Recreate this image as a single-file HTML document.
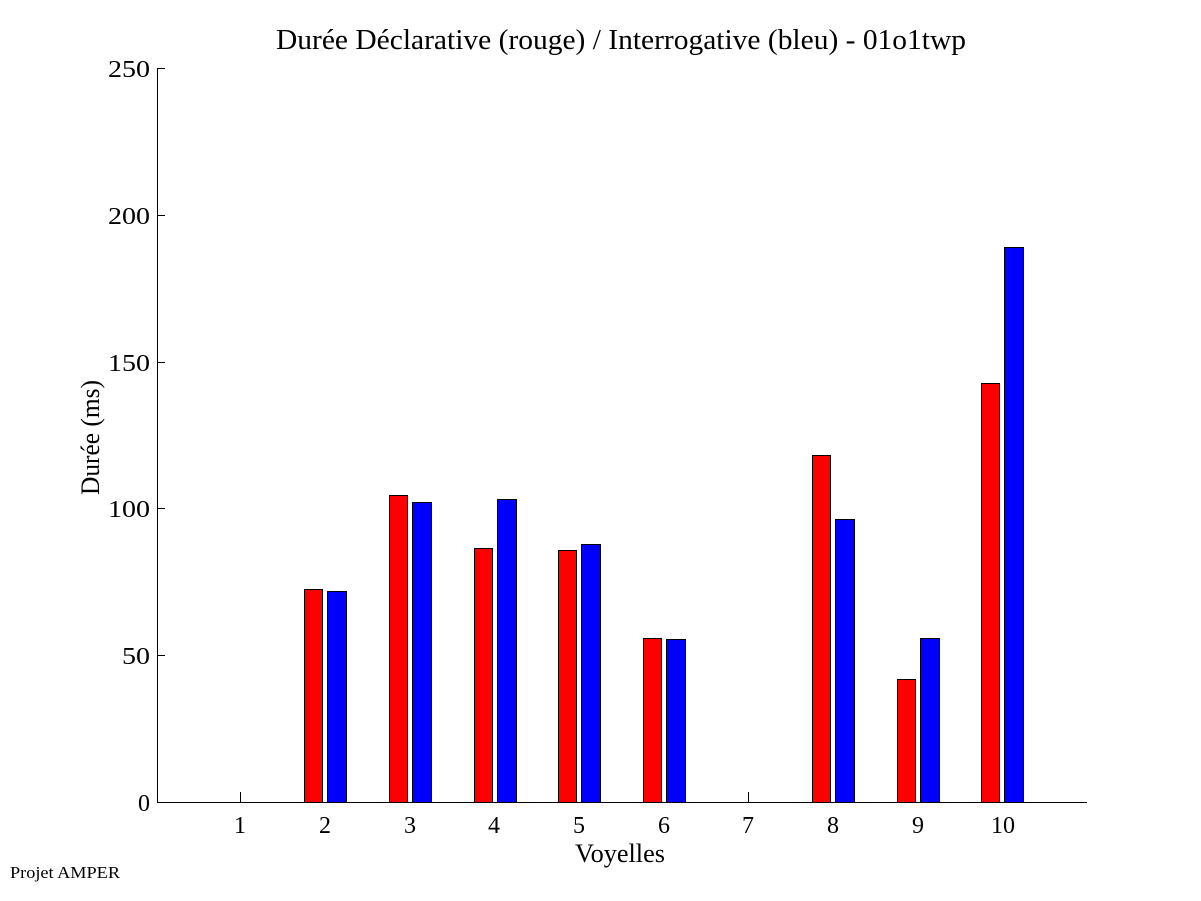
<!DOCTYPE html>
<html><head><meta charset="utf-8"><style>body{margin:0;background:#fff}svg{display:block}</style></head>
<body>
<svg width="1201" height="901" viewBox="0 0 1201 901" xmlns="http://www.w3.org/2000/svg" font-family="Liberation Serif, serif">
<rect width="1201" height="901" fill="#fff"/>
<text x="276" y="49" font-size="28" textLength="690" lengthAdjust="spacingAndGlyphs">Durée Déclarative (rouge) / Interrogative (bleu) - 01o1twp</text>
<g stroke="#000" stroke-width="1" fill="none">
<line x1="157.5" y1="68" x2="157.5" y2="802"/>
<line x1="157" y1="802.5" x2="1087" y2="802.5"/>
<line x1="157" y1="68.5" x2="165" y2="68.5"/>
<line x1="157" y1="215.5" x2="165" y2="215.5"/>
<line x1="157" y1="362.5" x2="165" y2="362.5"/>
<line x1="157" y1="508.5" x2="165" y2="508.5"/>
<line x1="157" y1="655.5" x2="165" y2="655.5"/>
</g>
<g font-size="24" text-anchor="end">
<text x="150" y="77" textLength="42" lengthAdjust="spacingAndGlyphs">250</text><text x="150" y="224" textLength="42" lengthAdjust="spacingAndGlyphs">200</text><text x="150" y="371" textLength="42" lengthAdjust="spacingAndGlyphs">150</text><text x="150" y="517" textLength="42" lengthAdjust="spacingAndGlyphs">100</text><text x="150" y="664" textLength="28" lengthAdjust="spacingAndGlyphs">50</text><text x="150" y="811">0</text>
</g>
<g stroke="#000" stroke-width="1">
<line x1="240.5" y1="792" x2="240.5" y2="802"/>
<line x1="748.5" y1="792" x2="748.5" y2="802"/>
</g>
<g stroke="#000" stroke-width="1">
<rect x="304.5" y="589.5" width="18" height="213" fill="#f00"/>
<rect x="327.5" y="591.5" width="19" height="211" fill="#00f"/>
<rect x="389.5" y="495.5" width="18" height="307" fill="#f00"/>
<rect x="412.5" y="502.5" width="19" height="300" fill="#00f"/>
<rect x="474.5" y="548.5" width="18" height="254" fill="#f00"/>
<rect x="497.5" y="499.5" width="19" height="303" fill="#00f"/>
<rect x="558.5" y="550.5" width="18" height="252" fill="#f00"/>
<rect x="581.5" y="544.5" width="19" height="258" fill="#00f"/>
<rect x="643.5" y="638.5" width="18" height="164" fill="#f00"/>
<rect x="666.5" y="639.5" width="19" height="163" fill="#00f"/>
<rect x="812.5" y="455.5" width="18" height="347" fill="#f00"/>
<rect x="835.5" y="519.5" width="19" height="283" fill="#00f"/>
<rect x="897.5" y="679.5" width="18" height="123" fill="#f00"/>
<rect x="920.5" y="638.5" width="19" height="164" fill="#00f"/>
<rect x="981.5" y="383.5" width="18" height="419" fill="#f00"/>
<rect x="1004.5" y="247.5" width="19" height="555" fill="#00f"/>
</g>
<g font-size="24" text-anchor="middle">
<text x="240" y="833">1</text><text x="325" y="833">2</text><text x="410" y="833">3</text><text x="494" y="833">4</text><text x="579" y="833">5</text><text x="664" y="833">6</text><text x="748" y="833">7</text><text x="833" y="833">8</text><text x="918" y="833">9</text><text x="1003" y="833">10</text>
</g>
<text x="575" y="862" font-size="26" textLength="90" lengthAdjust="spacingAndGlyphs">Voyelles</text>
<text transform="translate(99,495) rotate(-90)" font-size="26" textLength="115" lengthAdjust="spacingAndGlyphs">Durée (ms)</text>
<text x="10" y="878" font-size="17" textLength="110" lengthAdjust="spacingAndGlyphs">Projet AMPER</text>
</svg>
</body></html>
